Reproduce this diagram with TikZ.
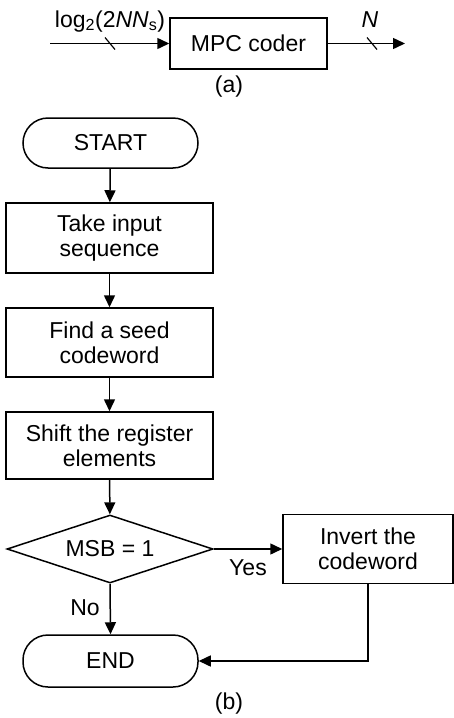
\documentclass[tikz,border=0pt]{standalone}
\usepackage{fontspec}
\setmainfont{Liberation Sans}
\usetikzlibrary{arrows.meta,shapes.geometric}

\begin{document}
\begin{tikzpicture}[x=1pt,y=-1pt,line width=1.5pt,
  font=\fontsize{23}{25}\selectfont,
  box/.style={draw,rectangle,inner sep=0pt,align=center},
  term/.style={draw,rectangle,inner sep=0pt,rounded corners=25pt,minimum width=175pt},
  decision/.style={draw,diamond,aspect=3,inner sep=0pt,minimum width=206pt,minimum height=68pt},
  arr/.style={-{Triangle[length=12pt,width=11pt]}},
  tick/.style={line width=1.2pt}]
\useasboundingbox (0,0) rectangle (454,718);

% (a) coder block
\node[box,minimum width=157pt,minimum height=51pt] (mpc) at (248.5,43.5) {MPC coder};
\coordinate (in) at (50,43.5);
\coordinate (out) at (405,43.5);
\draw[arr] (in) -- (mpc.west);
\draw[arr] (mpc.east) -- (out);
\coordinate (tin) at (110,43.5);
\coordinate (tout) at (372,43.5);
\draw[tick] ([shift={(-5,-6)}]tin) -- ([shift={(5,6)}]tin);
\draw[tick] ([shift={(-5,-6)}]tout) -- ([shift={(5,6)}]tout);
\node[anchor=base] (lin) at (110,27) {log\textsubscript{2}(2\textit{NN}\textsubscript{s})};
\node[anchor=base] (lout) at (370,27) {\textit{N}};
\node (capa) at (229,87) {(a)};

% (b) flowchart
\node[term,minimum height=50pt] (start) at (110.5,143) {START};
\node[box,minimum width=207pt,minimum height=70pt] (take) at (109.5,238) {Take input\\sequence};
\node[box,minimum width=207pt,minimum height=69pt] (seed) at (109.5,342.5) {Find a seed\\codeword};
\node[box,minimum width=207pt,minimum height=67pt] (shift) at (109.5,445.5) {Shift the register\\elements};
\node[decision] (msb) at (110,549) {MSB = 1};
\node[box,minimum width=170pt,minimum height=69pt] (inv) at (368,549) {Invert the\\codeword};
\node[term,minimum height=52pt] (end) at (110.5,661) {END};

\draw[arr] (start) -- (take);
\draw[arr] (take) -- (seed);
\draw[arr] (seed) -- (shift);
\draw[arr] (shift) -- (msb);
\draw[arr] (msb.east) -- (inv.west);
\draw[arr] (msb.south) -- (end.north);
\draw[arr] (inv.south) |- (end.east);

\node (yes) at (248,568) {Yes};
\node (no) at (85,608) {No};
\node (capb) at (229,704) {(b)};
\end{tikzpicture}
\end{document}
